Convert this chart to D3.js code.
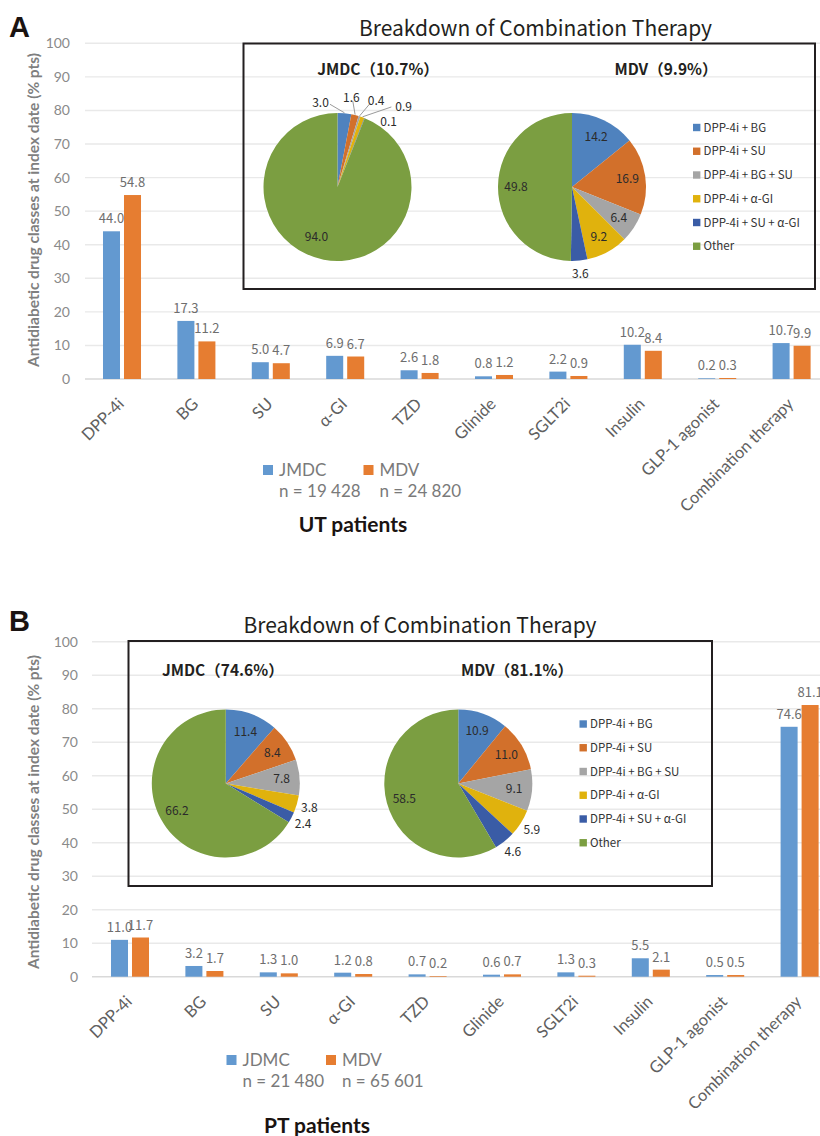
<!DOCTYPE html>
<html>
<head>
<meta charset="utf-8">
<script src="https://cdn.jsdelivr.net/npm/d3@7"></script>
<style>
  html, body { margin: 0; padding: 0; background: #fff; }
  svg { display: block; }
</style>
</head>
<body>
<svg id="chart" width="820" height="1136"></svg>
<script>
// ---- Data ----
const categories = ['DPP-4i', 'BG', 'SU', 'α-GI', 'TZD', 'Glinide', 'SGLT2i', 'Insulin', 'GLP-1 agonist', 'Combination therapy'];
const utJmdc = [44.0, 17.3, 5.0, 6.9, 2.6, 0.8, 2.2, 10.2, 0.2, 10.7];
const utMdv  = [54.8, 11.2, 4.7, 6.7, 1.8, 1.2, 0.9, 8.4, 0.3, 9.9];
const ptJmdc = [11.0, 3.2, 1.3, 1.2, 0.7, 0.6, 1.3, 5.5, 0.5, 74.6];
const ptMdv  = [11.7, 1.7, 1.0, 0.8, 0.2, 0.7, 0.3, 2.1, 0.5, 81.1];
const yTicks = [0, 10, 20, 30, 40, 50, 60, 70, 80, 90, 100];

const comboTypes = ['DPP-4i + BG', 'DPP-4i + SU', 'DPP-4i + BG + SU', 'DPP-4i + α-GI', 'DPP-4i + SU + α-GI', 'Other'];
const utComboJmdc = [3.0, 1.6, 0.4, 0.9, 0.1, 94.0];
const utComboMdv  = [14.2, 16.9, 6.4, 9.2, 3.6, 49.8];
const ptComboJmdc = [11.4, 8.4, 7.8, 3.8, 2.4, 66.2];
const ptComboMdv  = [10.9, 11.0, 9.1, 5.9, 4.6, 58.5];

// ---- Styles ----
const barColors = { JMDC: '#6399d0', MDV: '#e67d31' };
const pieColors = ['#4f82be', '#d2702b', '#a5a5a5', '#e0b20d', '#3a5ca6', '#7b9e41'];
const axisFont = 'Lato, "Noto Sans", sans-serif';
const insetFont = '"Noto Sans CJK SC", "Noto Sans", sans-serif';

const svg = d3.select('#chart');

function drawPanel(cfg) {
  const g = svg.append('g');

  // panel letter
  g.append('text').attr('x', 9).attr('y', cfg.letterY)
    .attr('font-family', '"Liberation Sans", Arial, sans-serif')
    .attr('font-weight', 'bold').attr('font-size', 29).attr('fill', '#1a1311')
    .text(cfg.letter);

  const y = d3.scaleLinear().domain([0, 100]).range([cfg.y0, cfg.y100]);
  const x0 = d3.scaleBand().domain(categories).range(cfg.xRange)
    .paddingInner(0.489).paddingOuter(0.2445);
  const x1 = d3.scaleBand().domain(['JMDC', 'MDV']).range([0, x0.bandwidth()]).paddingInner(0.19);

  // gridlines
  g.append('g').selectAll('line').data(yTicks).join('line')
    .attr('x1', cfg.gridX0).attr('x2', 820)
    .attr('y1', d => y(d)).attr('y2', d => y(d))
    .attr('stroke', d => d === 0 ? '#d9d9d9' : '#e9e9e9').attr('stroke-width', 1.4);

  // y axis labels
  const yAxis = d3.axisLeft(y).tickValues(yTicks).tickSize(0).tickPadding(0);
  const ya = g.append('g').attr('transform', `translate(${cfg.tickX},0)`).call(yAxis);
  ya.select('.domain').remove();
  ya.selectAll('text').attr('font-family', axisFont).attr('font-size', 14).attr('fill', '#8a8a8a');

  // y title
  g.append('text')
    .attr('transform', `translate(39,${cfg.yTitleY}) rotate(-90)`)
    .attr('text-anchor', 'middle')
    .attr('font-family', axisFont).attr('font-weight', 'bold').attr('font-size', 15.5)
    .attr('fill', '#7f7f7f')
    .text('Antidiabetic drug classes at index date (% pts)');

  // bars
  const rows = categories.map((c, i) => ({ c, vals: [{ k: 'JMDC', v: cfg.jmdc[i] }, { k: 'MDV', v: cfg.mdv[i] }] }));
  const grp = g.append('g').selectAll('g').data(rows).join('g')
    .attr('transform', d => `translate(${x0(d.c)},0)`);
  grp.selectAll('rect').data(d => d.vals).join('rect')
    .attr('x', d => x1(d.k)).attr('width', x1.bandwidth())
    .attr('y', d => y(d.v)).attr('height', d => cfg.y0 - y(d.v))
    .attr('fill', d => barColors[d.k]);
  grp.selectAll('text').data(d => d.vals).join('text')
    .attr('x', d => x1(d.k) + x1.bandwidth() / 2)
    .attr('y', d => y(d.v) - 8)
    .attr('text-anchor', 'middle')
    .attr('font-family', insetFont).attr('font-size', 13).attr('fill', '#6e6e6e')
    .text(d => d.v.toFixed(1));

  // x labels
  g.append('g').selectAll('text').data(categories).join('text')
    .attr('transform', d => `translate(${x0(d) + x0.bandwidth() / 2 + 3},${cfg.y0 + 26}) rotate(-45)`)
    .attr('text-anchor', 'end')
    .attr('font-family', axisFont).attr('font-size', 16.5).attr('fill', '#606060')
    .text(d => d);

  // series legend
  const lg = g.append('g');
  cfg.legend.forEach(L => {
    lg.append('rect').attr('x', L.x).attr('y', cfg.legendY - 11).attr('width', 10).attr('height', 10)
      .attr('fill', barColors[L.key]);
    lg.append('text').attr('x', L.x + 16).attr('y', cfg.legendY)
      .attr('font-family', axisFont).attr('font-size', 17).attr('fill', '#7a7a7a').text(L.label);
    lg.append('text').attr('x', L.x + 16).attr('y', cfg.legendY + 21)
      .attr('font-family', axisFont).attr('font-size', 17).attr('fill', '#7a7a7a').text(L.n);
  });

  g.append('text').attr('x', cfg.subX).attr('y', cfg.subY).attr('text-anchor', 'middle')
    .attr('font-family', axisFont).attr('font-weight', 'bold').attr('font-size', 21)
    .attr('fill', '#1a1311').text(cfg.sub);

  // ---- inset: breakdown of combination therapy ----
  const b = cfg.box;
  g.append('rect').attr('x', b.x).attr('y', b.y).attr('width', b.w).attr('height', b.h)
    .attr('fill', 'none').attr('stroke', '#231f20').attr('stroke-width', 2);
  g.append('text').attr('x', cfg.insetTitleX).attr('y', cfg.insetTitleY).attr('text-anchor', 'middle')
    .attr('font-family', insetFont).attr('font-size', 21).attr('fill', '#231f20')
    .text('Breakdown of Combination Therapy');

  const pie = d3.pie().sort(null).value(d => d);
  const R = 74;
  const arc = d3.arc().innerRadius(0).outerRadius(R);
  const polar = (deg, dist) => [dist * Math.sin(deg * Math.PI / 180), -dist * Math.cos(deg * Math.PI / 180)];

  cfg.pies.forEach(P => {
    const pg = g.append('g').attr('transform', `translate(${P.cx},${P.cy})`);
    const arcs = pie(P.values);
    pg.selectAll('path').data(arcs).join('path')
      .attr('d', arc).attr('fill', (d, i) => pieColors[i]);

    arcs.forEach((d, i) => {
      const midDeg = (d.startAngle + d.endAngle) / 2 * 180 / Math.PI;
      const ov = P.labelAt && P.labelAt[i];
      const pos = ov ? polar(ov[0], ov[1]) : (d.value < 6 ? polar(midDeg, 87) : polar(midDeg, 56));
      if (ov && ov[2]) {
        const edge = polar(midDeg, R + 0.5);
        const dx = pos[0] - edge[0], dy = pos[1] - 4 - edge[1];
        const len = Math.hypot(dx, dy);
        const k = (len - ov[2]) / len;
        pg.append('line').attr('x1', edge[0]).attr('y1', edge[1])
          .attr('x2', edge[0] + dx * k).attr('y2', edge[1] + dy * k)
          .attr('stroke', '#9a9a9a').attr('stroke-width', 1);
      }
      pg.append('text').attr('x', pos[0]).attr('y', pos[1] + 4.5)
        .attr('text-anchor', 'middle')
        .attr('font-family', insetFont).attr('font-size', 12).attr('fill', '#2b2b2b')
        .text(d.value.toFixed(1));
    });

    g.append('text').attr('x', P.titleX).attr('y', cfg.pieTitleY).attr('text-anchor', P.titleAnchor)
      .attr('font-family', insetFont).attr('font-weight', 'bold').attr('font-size', 15.5)
      .attr('fill', '#231f20').text(P.title);
  });

  // inset legend
  const il = g.append('g');
  comboTypes.forEach((t, i) => {
    const yy = cfg.insetLegend.y + i * 23.75;
    il.append('rect').attr('x', cfg.insetLegend.x).attr('y', yy - 3.7).attr('width', 7.4).attr('height', 7.4)
      .attr('fill', pieColors[i]);
    il.append('text').attr('x', cfg.insetLegend.x + 10.5).attr('y', yy + 4)
      .attr('font-family', insetFont).attr('font-size', 11.5).attr('fill', '#333')
      .text(t);
  });
}

// Panel A: UT patients
drawPanel({
  letter: 'A', letterY: 37,
  y0: 379, y100: 43.3, xRange: [84.8, 828.8], gridX0: 85, tickX: 70, yTitleY: 210,
  jmdc: utJmdc, mdv: utMdv,
  legendY: 476,
  legend: [{ key: 'JMDC', label: 'JMDC', n: 'n = 19 428', x: 263 }, { key: 'MDV', label: 'MDV', n: 'n = 24 820', x: 363.5 }],
  sub: 'UT patients', subX: 353, subY: 532,
  box: { x: 243.5, y: 43.5, w: 571.5, h: 245.5 },
  insetTitleX: 535.5, insetTitleY: 36, pieTitleY: 75,
  pies: [
    { cx: 337.5, cy: 187, values: utComboJmdc, title: `JMDC（${utJmdc[9].toFixed(1)}%）`, titleX: 378, titleAnchor: 'middle',
      labelAt: [[-11.4, 86, 11], [8.8, 91, 8], [24, 95, 9], [39.5, 104, 13], [38, 83, 0], [203, 54, 0]] },
    { cx: 572, cy: 187, values: utComboMdv, title: `MDV（${utMdv[9].toFixed(1)}%）`, titleX: 666, titleAnchor: 'middle' }
  ],
  insetLegend: { x: 693, y: 127.5 }
});

// Panel B: PT patients
drawPanel({
  letter: 'B', letterY: 631,
  y0: 976.7, y100: 641.7, xRange: [92.8, 836.8], gridX0: 92, tickX: 78, yTitleY: 812,
  jmdc: ptJmdc, mdv: ptMdv,
  legendY: 1066,
  legend: [{ key: 'JMDC', label: 'JDMC', n: 'n = 21 480', x: 226.5 }, { key: 'MDV', label: 'MDV', n: 'n = 65 601', x: 326 }],
  sub: 'PT patients', subX: 317, subY: 1133,
  box: { x: 128.5, y: 641, w: 583.5, h: 245 },
  insetTitleX: 420, insetTitleY: 633, pieTitleY: 676,
  pies: [
    { cx: 225.8, cy: 783.5, values: ptComboJmdc, title: `JMDC（${ptJmdc[9].toFixed(1)}%）`, titleX: 162, titleAnchor: 'start' },
    { cx: 458.3, cy: 783.5, values: ptComboMdv, title: `MDV（${ptMdv[9].toFixed(1)}%）`, titleX: 517, titleAnchor: 'middle' }
  ],
  insetLegend: { x: 579.5, y: 724 }
});
</script>
</body>
</html>
